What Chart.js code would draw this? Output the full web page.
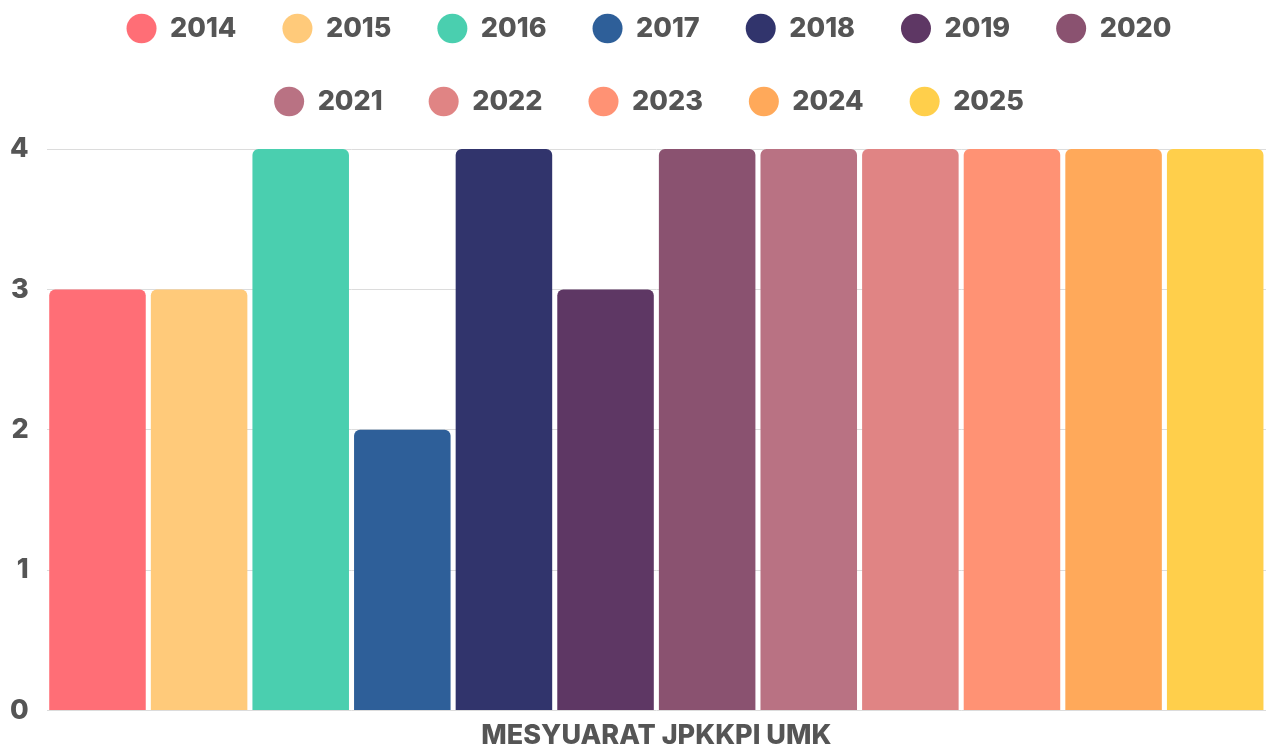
<!DOCTYPE html>
<html lang="ms">
<head>
    <meta charset="UTF-8">
    <title>Mesyuarat JPKKPI UMK</title>
    <script src="https://cdn.jsdelivr.net/npm/chart.js"></script>
    <style>
        html, body { margin: 0; padding: 0; background: #fff; }
        #wrap { width: 1266px; height: 745px; }
    </style>
</head>
<body>
    <div id="wrap"><canvas id="meetingChart"></canvas></div>

    <script>
        const categories = ['MESYUARAT JPKKPI UMK'];
        const years = ['2014', '2015', '2016', '2017', '2018', '2019', '2020', '2021', '2022', '2023', '2024', '2025'];
        const meetings = [3, 3, 4, 2, 4, 3, 4, 4, 4, 4, 4, 4];
        const yearColors = ['#ff6e76', '#ffca7a', '#4acfaf', '#2e5f99', '#31346c', '#5e3764',
                            '#8a5270', '#b97283', '#e08484', '#ff9274', '#ffa95a', '#ffcf4b'];

        Chart.defaults.font.family = 'Inter, "Open Sans", sans-serif';
        Chart.defaults.font.weight = 800;
        Chart.defaults.color = '#555555';

        // extra gap under the legend, and nudge the legend rows a little to the right
        const legendSpacer = {
            id: 'legendSpacer',
            beforeInit(chart) {
                const origFit = chart.legend.fit;
                chart.legend.fit = function fit() {
                    origFit.bind(chart.legend)();
                    this.height += 24;
                };
            },
            afterLayout(chart) {
                chart.legend.left += 15;
                chart.legend.right += 15;
            }
        };

        // one dataset per year so each gets its own legend entry
        const datasets = years.map((year, i) => ({
            label: year,
            data: [meetings[i]],
            backgroundColor: yearColors[i],
            borderRadius: 6,
            borderSkipped: 'start',
            barPercentage: 0.95,
            categoryPercentage: 1
        }));

        const ctx = document.getElementById('meetingChart').getContext('2d');
        new Chart(ctx, {
            type: 'bar',
            data: { labels: categories, datasets: datasets },
            plugins: [legendSpacer],
            options: {
                responsive: true,
                maintainAspectRatio: false,
                animation: false,
                layout: { padding: { top: -31, right: -10, left: -8, bottom: -8 } },
                plugins: {
                    legend: {
                        position: 'top',
                        labels: {
                            usePointStyle: true,
                            pointStyle: 'circle',
                            pointStyleWidth: 30,
                            boxHeight: 21,
                            padding: 46,
                            font: { size: 27, weight: 800 }
                        }
                    },
                    tooltip: { enabled: false }
                },
                scales: {
                    x: {
                        grid: { display: false },
                        border: { display: false },
                        ticks: { font: { size: 27, weight: 800 }, padding: 1 }
                    },
                    y: {
                        min: 0,
                        max: 4,
                        ticks: { stepSize: 1, font: { size: 27, weight: 800 }, padding: 18 },
                        grid: { color: '#dcdcdc', drawTicks: false },
                        border: { display: false }
                    }
                }
            }
        });
    </script>
</body>
</html>
